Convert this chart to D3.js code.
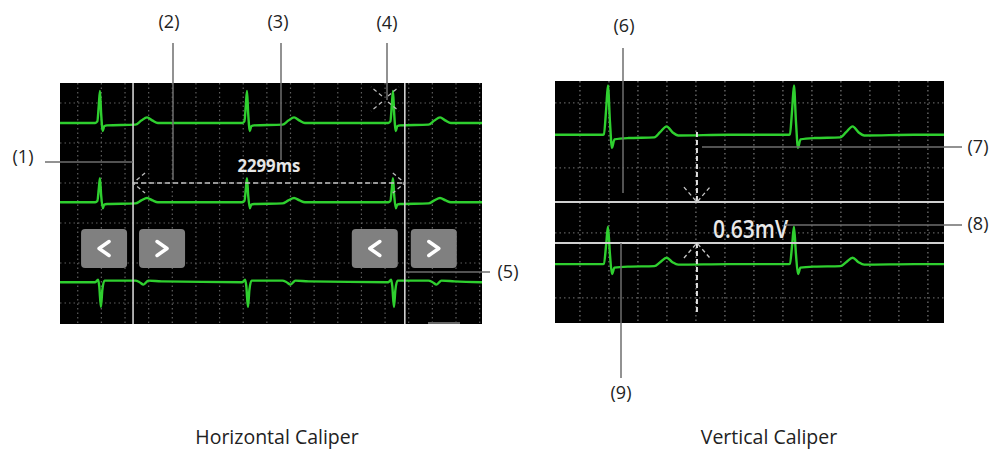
<!DOCTYPE html>
<html>
<head>
<meta charset="utf-8">
<script src="https://cdn.jsdelivr.net/npm/d3@7"></script>
<style>
  body { margin: 0; background: #fff; }
  text { font-family: "Open Sans", sans-serif; }
</style>
</head>
<body>
<div class="myChart"></div>
<script>
var svgWidth = 997;
var svgHeight = 450;

// beat shapes: [ms from R peak, mV]
var hBeatUp = [[-40, 0], [-22, 0.02], [-10, 0.22], [0, 0.40], [10, 0.12], [24, -0.1], [36, -0.04],
  [60, -0.03], [300, -0.02], [350, 0.03], [398, 0.07], [445, 0.03], [490, 0]];
var hBeatDown = [[-40, 0], [-16, 0.03], [-6, -0.05], [8, -0.31], [20, -0.1], [38, 0.02],
  [300, 0.02], [335, 0], [368, -0.03], [410, 0.02], [520, 0.01]];
var vBeat = [[-40, 0], [-28, 0.01], [-12, 0.4], [0, 0.76], [14, 0.2], [28, -0.2], [45, -0.07],
  [140, -0.05], [320, -0.04], [360, 0.04], [405, 0.13], [445, 0.04], [485, -0.01], [830, 0]];

// horizontal caliper panel
var hBeats = [188, 1432, 2667];          // R peak times (ms)
var hBaselines = [2.75, 1.76, 0.76];     // mV
var hGains = [1, 0.75, 1];
var hCursors = [468, 2767];              // ms
var hLabel = "2299ms";

// vertical caliper panel
var vBeats = [193, 1476];
var vBaselines = [2.51, 0.52];
var vGains = [1, 0.76];
var vCursors = [1.475, 0.845];           // mV
var vCursorTime = 807;
var vLabel = "0.63mV";

var titles = ["Horizontal Caliper", "Vertical Caliper"];
var callouts = ["(1)", "(2)", "(3)", "(4)", "(5)", "(6)", "(7)", "(8)", "(9)"];

var svg = d3.select(".myChart")
  .append("svg")
  .attr("width", svgWidth)
  .attr("height", svgHeight);

var hx = d3.scaleLinear().domain([-150, 3420]).range([60, 482]);
var hy = d3.scaleLinear().domain([0.2375, 3.25]).range([324, 83]);
var vx = d3.scaleLinear().domain([-172, 2511]).range([555, 944]);
var vy = d3.scaleLinear().domain([-0.385, 3.338]).range([323, 81]);

function buildTrace(beats, shape, base, gain, domain) {
  var pts = [[domain[0], base]];
  beats.forEach(function(b) {
    shape.forEach(function(p) { pts.push([b + p[0], base + gain * p[1]]); });
  });
  pts.push([domain[1], base]);
  return pts;
}

function drawPanel(id, x, y, vTicks, hTicks, vColor) {
  var x0 = x.range()[0], x1 = x.range()[1], y0 = y.range()[1], y1 = y.range()[0];
  svg.append("clipPath").attr("id", id)
    .append("rect").attr("x", x0).attr("y", y0).attr("width", x1 - x0).attr("height", y1 - y0);
  var g = svg.append("g");
  g.append("rect").attr("x", x0).attr("y", y0).attr("width", x1 - x0).attr("height", y1 - y0)
    .attr("fill", "#000");
  g.selectAll(".vg").data(vTicks).enter().append("line")
    .attr("x1", function(d) { return x(d); }).attr("x2", function(d) { return x(d); })
    .attr("y1", y0).attr("y2", y1)
    .attr("stroke", vColor).attr("stroke-width", 1.2).attr("stroke-dasharray", "1.5,3");
  g.selectAll(".hg").data(hTicks).enter().append("line")
    .attr("x1", x0).attr("x2", x1)
    .attr("y1", function(d) { return y(d); }).attr("y2", function(d) { return y(d); })
    .attr("stroke", "#5e5e5e").attr("stroke-width", 1.2).attr("stroke-dasharray", "1.5,3");
  return g;
}

var line = function(x, y) {
  return d3.line().x(function(d) { return x(d[0]); }).y(function(d) { return y(d[1]); })
    .curve(d3.curveMonotoneX);
};

// ---------- horizontal caliper ----------
var hp = drawPanel("clipH", hx, hy, d3.range(0, 3420, 200), d3.range(0.5, 3.25, 0.5), "#5e5e5e");
var hShapes = [hBeatUp, hBeatUp, hBeatDown];
hBaselines.forEach(function(b, i) {
  hp.append("path")
    .attr("d", line(hx, hy)(buildTrace(hBeats, hShapes[i], b, hGains[i], hx.domain())))
    .attr("clip-path", "url(#clipH)")
    .attr("fill", "none").attr("stroke", "#2fcf2f").attr("stroke-width", 2.4)
    .attr("stroke-linejoin", "round");
});

hCursors.forEach(function(c) {
  hp.append("line").attr("x1", hx(c)).attr("x2", hx(c)).attr("y1", 83).attr("y2", 324)
    .attr("stroke", "#d0d0d0").attr("stroke-width", 1.6);
});

var ay = 183;
var ax1 = hx(hCursors[0]), ax2 = hx(hCursors[1]);
hp.append("line").attr("x1", ax1).attr("x2", ax2).attr("y1", ay).attr("y2", ay)
  .attr("stroke", "#c4c4c4").attr("stroke-width", 1.6).attr("stroke-dasharray", "5,3");
[[ax1, 1], [ax2, -1]].forEach(function(a) {
  hp.append("path")
    .attr("d", "M" + (a[0] + a[1] * 12) + "," + (ay - 10) + "L" + a[0] + "," + ay + "L" + (a[0] + a[1] * 12) + "," + (ay + 10))
    .attr("fill", "none").attr("stroke", "#bdbdbd").attr("stroke-width", 1.3).attr("stroke-dasharray", "4,3");
});
hp.append("text").attr("x", (ax1 + ax2) / 2).attr("y", 172).attr("text-anchor", "middle")
  .attr("fill", "#e6e6e6").attr("font-weight", 700).attr("font-size", 18)
  .attr("textLength", 63).attr("lengthAdjust", "spacingAndGlyphs").text(hLabel);

// cross marker on R peak
var cx = 385, cy = 99;
[[-1, -1], [1, -1], [-1, 1], [1, 1]].forEach(function(s) {
  hp.append("line").attr("x1", cx + s[0] * 3).attr("y1", cy + s[1] * 3)
    .attr("x2", cx + s[0] * 14).attr("y2", cy + s[1] * 12)
    .attr("stroke", "#bdbdbd").attr("stroke-width", 1.2).attr("stroke-dasharray", "4,3");
});

// move buttons
var btns = [[ax1 - 52, -1], [ax1 + 6, 1], [ax2 - 53, -1], [ax2 + 6, 1]];
btns.forEach(function(b) {
  hp.append("rect").attr("x", b[0]).attr("y", 229).attr("width", 46).attr("height", 39)
    .attr("rx", 4).attr("fill", "#808080");
  var mx = b[0] + 23, my = 248.5;
  hp.append("path")
    .attr("d", "M" + (mx - b[1] * 5) + "," + (my - 7) + "L" + (mx + b[1] * 5) + "," + my + "L" + (mx - b[1] * 5) + "," + (my + 7))
    .attr("fill", "none").attr("stroke", "#fff").attr("stroke-width", 3.5)
    .attr("stroke-linecap", "round").attr("stroke-linejoin", "round");
});
hp.append("rect").attr("x", 428).attr("y", 322).attr("width", 32).attr("height", 2).attr("fill", "#666");

// ---------- vertical caliper ----------
var vp = drawPanel("clipV", vx, vy, d3.range(0, 2511, 200), d3.range(0, 3.3, 1), "#7a7a7a");
vBaselines.forEach(function(b, i) {
  vp.append("path")
    .attr("d", line(vx, vy)(buildTrace(vBeats, vBeat, b, vGains[i], vx.domain())))
    .attr("clip-path", "url(#clipV)")
    .attr("fill", "none").attr("stroke", "#2fcf2f").attr("stroke-width", 2.4)
    .attr("stroke-linejoin", "round");
});

vCursors.forEach(function(c) {
  vp.append("line").attr("x1", 555).attr("x2", 944).attr("y1", vy(c)).attr("y2", vy(c))
    .attr("stroke", "#d0d0d0").attr("stroke-width", 2);
});
var dx = vx(vCursorTime);
var cTop = vy(vCursors[0]), cBot = vy(vCursors[1]);
vp.append("line").attr("x1", dx).attr("x2", dx).attr("y1", 132).attr("y2", cTop)
  .attr("stroke", "#e0e0e0").attr("stroke-width", 2).attr("stroke-dasharray", "5,3");
vp.append("line").attr("x1", dx).attr("x2", dx).attr("y1", cBot).attr("y2", 313)
  .attr("stroke", "#e0e0e0").attr("stroke-width", 2).attr("stroke-dasharray", "5,3");
[[cTop, -1], [cBot, 1]].forEach(function(a) {
  vp.append("path")
    .attr("d", "M" + (dx - 13) + "," + (a[0] + a[1] * 15) + "L" + dx + "," + a[0] + "L" + (dx + 13) + "," + (a[0] + a[1] * 15))
    .attr("fill", "none").attr("stroke", "#c8c8c8").attr("stroke-width", 1.3).attr("stroke-dasharray", "4,3");
});
vp.append("text").attr("x", 713).attr("y", 237.5)
  .attr("fill", "#e8e8e8").attr("font-weight", 600).attr("font-size", 25)
  .attr("textLength", 75).attr("lengthAdjust", "spacingAndGlyphs").text(vLabel);

// ---------- callouts ----------
var leaders = [
  [45, 162, 133, 162], [173, 43, 173, 180], [281, 43, 281, 160], [387, 43, 387, 100],
  [405, 272, 490, 272], [623, 48, 623, 193], [702, 147, 962, 147], [785, 225, 962, 225],
  [621, 243, 621, 378]
];
svg.selectAll(".leader").data(leaders).enter().append("line")
  .attr("x1", function(d) { return d[0]; }).attr("y1", function(d) { return d[1]; })
  .attr("x2", function(d) { return d[2]; }).attr("y2", function(d) { return d[3]; })
  .attr("stroke", "#6e6e6e").attr("stroke-width", 1.5);

var labelPos = [[23, 157], [169, 22], [278, 22], [387, 23], [508, 272], [624, 26], [978, 147], [978, 224], [621, 393]];
svg.selectAll(".callout").data(callouts).enter().append("text")
  .attr("x", function(d, i) { return labelPos[i][0]; })
  .attr("y", function(d, i) { return labelPos[i][1]; })
  .attr("dy", "0.35em").attr("text-anchor", "middle")
  .attr("font-size", 18).attr("fill", "#222")
  .text(function(d) { return d; });

svg.selectAll(".title").data(titles).enter().append("text")
  .attr("x", function(d, i) { return i === 0 ? 277 : 769; })
  .attr("y", 444)
  .attr("text-anchor", "middle").attr("font-size", 19.5).attr("fill", "#222")
  .text(function(d) { return d; });
</script>
</body>
</html>
